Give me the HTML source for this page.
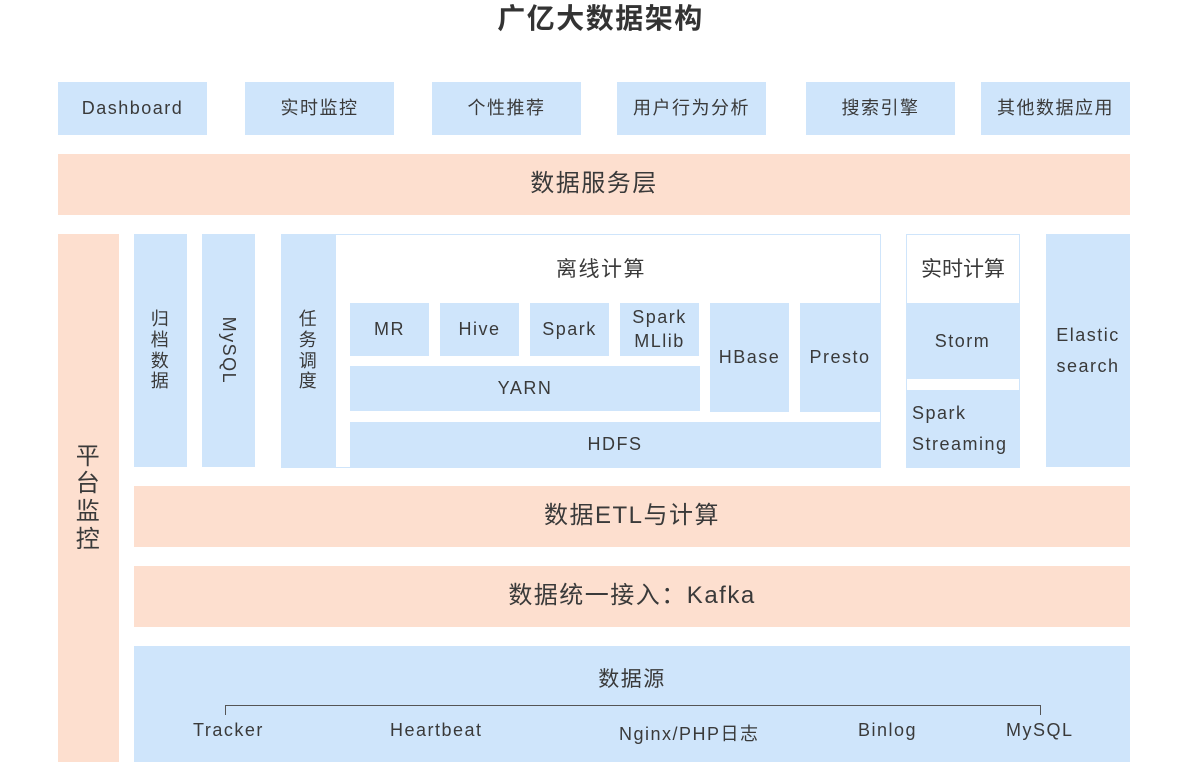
<!DOCTYPE html>
<html><head><meta charset="utf-8"><style>
body{margin:0;width:1201px;height:777px;background:#fff;position:relative;overflow:hidden;font-family:"Liberation Sans","Noto Sans CJK SC",sans-serif;color:#3a3a3a}
.b{position:absolute;display:flex;align-items:center;justify-content:center;text-align:center;box-sizing:border-box;font-size:18px;letter-spacing:1.5px;line-height:1.6}
.bl{background:#cfe5fb}
.pk{background:#fddfcf;font-size:24px}
.v{flex-direction:column;line-height:1.15}
.o{border:1px solid #cfe5fb;background:#fff}
.t{position:absolute;font-size:18px;letter-spacing:1.5px}
</style></head><body>
<div class="b" style="left:0;top:2px;width:1201px;height:34px;font-size:28px;font-weight:bold;color:#333">广亿大数据架构</div>

<div class="b bl" style="left:58px;top:82px;width:149px;height:53px">Dashboard</div>
<div class="b bl" style="left:245px;top:82px;width:149px;height:53px">实时监控</div>
<div class="b bl" style="left:432px;top:82px;width:149px;height:53px">个性推荐</div>
<div class="b bl" style="left:617px;top:82px;width:149px;height:53px">用户行为分析</div>
<div class="b bl" style="left:806px;top:82px;width:149px;height:53px">搜索引擎</div>
<div class="b bl" style="left:981px;top:82px;width:149px;height:53px">其他数据应用</div>

<div class="b pk" style="left:58px;top:154px;width:1072px;height:61px">数据服务层</div>

<div class="b pk v" style="left:58px;top:234px;width:61px;height:528px;font-size:24px">平<br>台<br>监<br>控</div>
<div class="b bl v" style="left:134px;top:234px;width:53px;height:233px">归<br>档<br>数<br>据</div>
<div class="b bl" style="left:202px;top:234px;width:53px;height:233px"><span style="display:inline-block;transform:rotate(90deg);white-space:nowrap">MySQL</span></div>
<div class="b o" style="left:281px;top:234px;width:600px;height:234px;align-items:flex-start;padding-top:18px;padding-left:40px;font-size:21px">离线计算</div>
<div class="b bl v" style="left:281px;top:234px;width:55px;height:233px">任<br>务<br>调<br>度</div>
<div class="b bl" style="left:350px;top:303px;width:79px;height:53px">MR</div>
<div class="b bl" style="left:440px;top:303px;width:79px;height:53px">Hive</div>
<div class="b bl" style="left:530px;top:303px;width:79px;height:53px">Spark</div>
<div class="b bl" style="left:620px;top:303px;width:79px;height:53px;line-height:1.3">Spark<br>MLlib</div>
<div class="b bl" style="left:350px;top:366px;width:350px;height:45px">YARN</div>
<div class="b bl" style="left:710px;top:303px;width:79px;height:109px">HBase</div>
<div class="b bl" style="left:800px;top:303px;width:80px;height:109px">Presto</div>
<div class="b bl" style="left:350px;top:422px;width:530px;height:45px">HDFS</div>

<div class="b o" style="left:906px;top:234px;width:114px;height:234px;align-items:flex-start;padding-top:18px;font-size:21px;letter-spacing:0">实时计算</div>
<div class="b bl" style="left:906px;top:303px;width:113px;height:76px">Storm</div>
<div class="b bl" style="left:906px;top:390px;width:113px;height:77px;justify-content:flex-start;text-align:left;padding-left:6px;line-height:1.7">Spark<br>Streaming</div>
<div class="b bl" style="left:1046px;top:234px;width:84px;height:233px;line-height:1.7">Elastic<br>search</div>

<div class="b pk" style="left:134px;top:486px;width:996px;height:61px">数据ETL与计算</div>
<div class="b pk" style="left:134px;top:566px;width:996px;height:61px">数据统一接入：Kafka</div>
<div class="b bl" style="left:134px;top:646px;width:996px;height:116px;align-items:flex-start;padding-top:17px;font-size:21px">数据源</div>
<div style="position:absolute;left:225px;top:705px;width:814px;height:9px;border:1px solid #555;border-bottom:none"></div>
<div class="t" style="left:193px;top:720px">Tracker</div>
<div class="t" style="left:390px;top:720px">Heartbeat</div>
<div class="t" style="left:619px;top:720px">Nginx/PHP日志</div>
<div class="t" style="left:858px;top:720px">Binlog</div>
<div class="t" style="left:1006px;top:720px">MySQL</div>
</body></html>
